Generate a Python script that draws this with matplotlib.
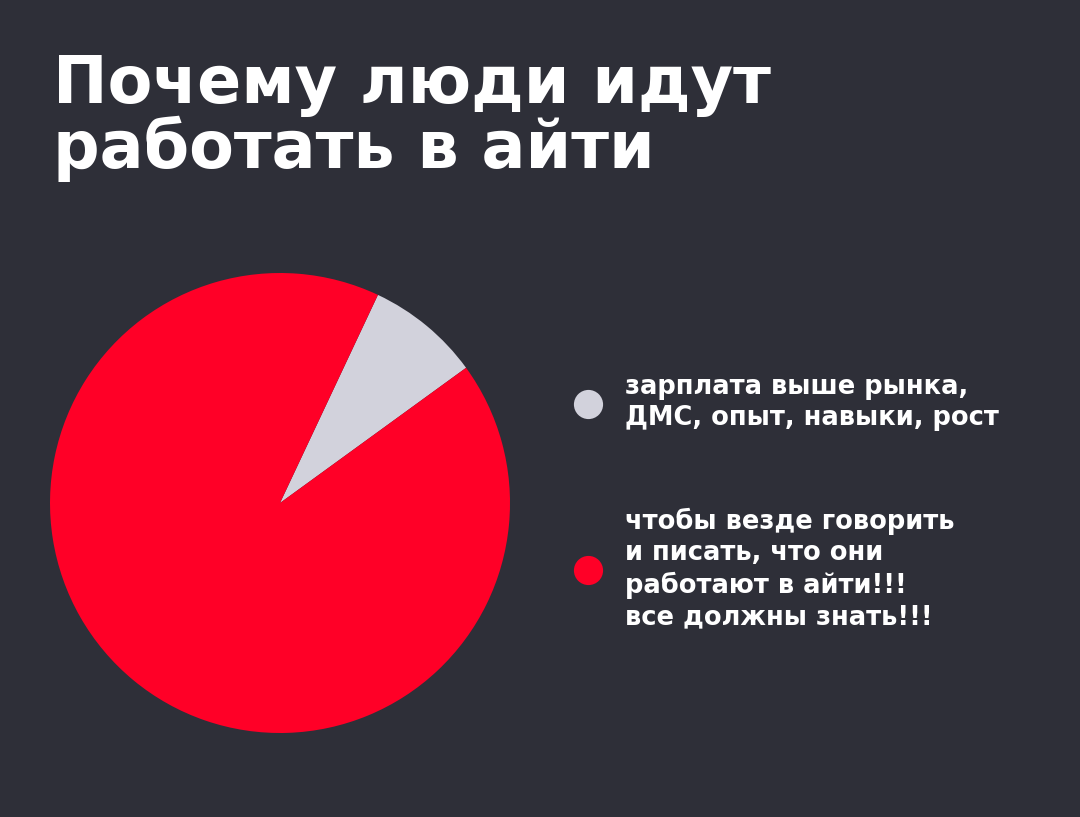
import matplotlib
matplotlib.use("Agg")
import matplotlib.pyplot as plt
from matplotlib.lines import Line2D

plt.rcParams['font.family'] = ['DejaVu Sans']

title = "Почему люди идут\nработать в айти"
labels = ["зарплата выше рынка,\nДМС, опыт, навыки, рост",
          "чтобы везде говорить\nи писать, что они\nработают в айти!!!\nвсе должны знать!!!"]
values = [8, 92]
colors = ["#d2d2dc", "#ff0027"]
bg = "#2e2f38"

fig = plt.figure(figsize=(10.8, 8.17), dpi=100, facecolor=bg)

fig.text(0.049, 0.935, title, color="white", fontsize=47, fontweight="bold",
         va="top", ha="left", linespacing=0.97)

ax = fig.add_axes([50 / 1080, 84 / 817, 460 / 1080, 460 / 817])
ax.set_facecolor(bg)
ax.pie(values, colors=colors, startangle=36, counterclock=True,
       wedgeprops=dict(linewidth=0))
ax.set_xlim(-1, 1)
ax.set_ylim(-1, 1)
ax.set_aspect("equal")

handles = [Line2D([], [], marker="o", linestyle="", markersize=21,
                  markerfacecolor=c, markeredgewidth=0) for c in colors]
leg = fig.legend(handles, labels, loc="center left",
                 bbox_to_anchor=(552 / 1080, 1 - 502 / 817),
                 frameon=False, fontsize=18.5, labelcolor="white",
                 labelspacing=3.0, handletextpad=0.94, handlelength=1.0,
                 borderpad=0.4)
for t in leg.get_texts():
    t.set_fontweight("bold")
    t.set_linespacing(1.25)

fig.savefig("out.png", dpi=100, facecolor=bg)
